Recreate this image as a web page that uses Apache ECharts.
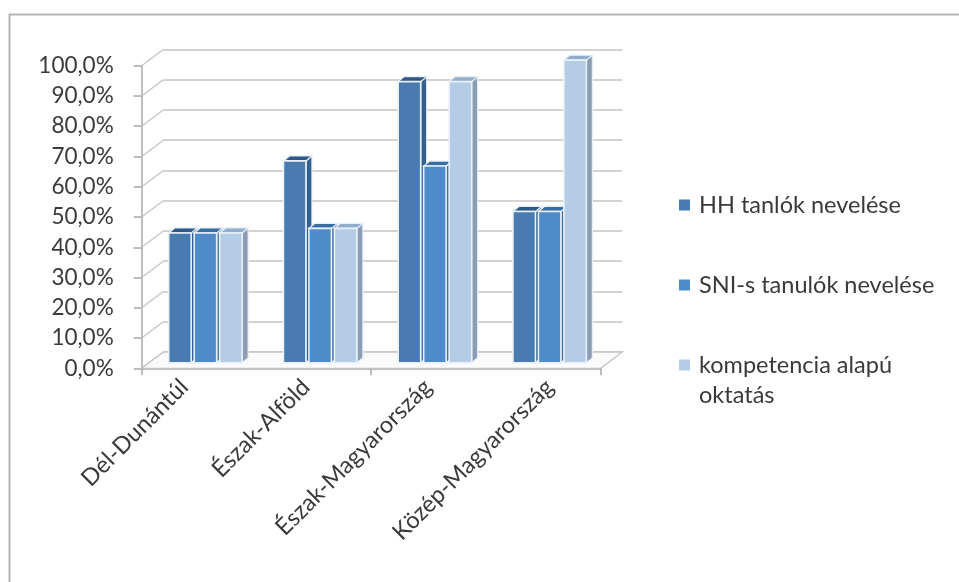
<!DOCTYPE html>
<html>
<head>
<meta charset="utf-8">
<script src="https://cdn.jsdelivr.net/npm/echarts@6/dist/echarts.min.js"></script>
<style>
  html, body { margin: 0; padding: 0; background: #fff; }
  #chart { width: 959px; height: 582px; }
</style>
</head>
<body>
<div id="chart"></div>
<script>
// Regions and the share of schools per programme
const regions = ['Dél-Dunántúl', 'Észak-Alföld', 'Észak-Magyarország', 'Közép-Magyarország'];
const seriesNames = ['HH tanlók nevelése', 'SNI-s tanulók nevelése', 'kompetencia alapú oktatás'];
const hhValues = [0.429, 0.667, 0.929, 0.5];
const sniValues = [0.429, 0.444, 0.65, 0.5];
const kompValues = [0.429, 0.444, 0.929, 1.0];
const yTicks = [0, 0.1, 0.2, 0.3, 0.4, 0.5, 0.6, 0.7, 0.8, 0.9, 1.0];

const FONT = 'Lato, "Open Sans", sans-serif';
const TEXT = '#3a3a3a';
const GRID_LINE = '#c4c4c4';
const AXIS_LINE = '#a8a8a8';

// 3D look: depth of the floor (front plane -> back wall) and of each bar
const FLOOR_DX = 21.6, FLOOR_DY = -16.3;
const BAR_DX = 6, BAR_DY = -5;
const BAR_W = 0.196, BAR_PITCH = 0.222, GROUP_SHIFT = -1;

const faces = [
  { front: '#4A7BB0', top: '#2E5885', side: '#34608F' },
  { front: '#4F8BC8', top: '#3A6DA3', side: '#3F6E9E' },
  { front: '#B5CCE6', top: '#93AECD', side: '#8A9DB4' }
];
const valueSets = [hhValues, sniValues, kompValues];

const front = { left: 141.7, top: 65.7, width: 459, height: 302.6 };
const back = { left: front.left + FLOOR_DX, top: front.top + FLOOR_DY, width: 459, height: 302.6 };
const mid = { left: front.left + 0.34 * FLOOR_DX, top: front.top + 0.34 * FLOOR_DY, width: 459, height: 302.6 };
// category labels follow the projected (slightly wider) front edge
const labelRow = { left: 123.5, top: front.top, width: 486.8, height: 302.6 };

function pct(v) {
  return (v * 100).toFixed(1).replace('.', ',') + '%';
}

function barRenderer(k) {
  return function (params, api) {
    const cat = api.value(0);
    const val = api.value(1);
    const base = api.coord([cat, 0]);
    const top = api.coord([cat, val]);
    const catW = api.size([1, 0])[0];
    const w = catW * BAR_W;
    const x0 = base[0] + (k - 1) * catW * BAR_PITCH - w / 2 + GROUP_SHIFT;
    const x1 = x0 + w;
    const yb = base[1], yt = top[1];
    const f = faces[k];
    const edge = { stroke: '#E4EEF8', lineWidth: 1.2 };
    return {
      type: 'group',
      children: [
        { type: 'polygon', shape: { points: [[x1, yb], [x1 + BAR_DX, yb + BAR_DY], [x1 + BAR_DX, yt + BAR_DY], [x1, yt]] },
          style: Object.assign({ fill: f.side }, edge) },
        { type: 'polygon', shape: { points: [[x0, yt], [x1, yt], [x1 + BAR_DX, yt + BAR_DY], [x0 + BAR_DX, yt + BAR_DY]] },
          style: Object.assign({ fill: f.top }, edge) },
        { type: 'rect', shape: { x: x0, y: yt, width: w, height: yb - yt },
          style: { fill: f.front, stroke: '#E8F1FA', lineWidth: 1.6 } }
      ]
    };
  };
}

// back wall connectors and floor
function wallRenderer(params, api) {
  const v = api.value(0);
  const p = api.coord([0, v]);
  const children = [
    { type: 'line', shape: { x1: p[0], y1: p[1], x2: p[0] - FLOOR_DX, y2: p[1] - FLOOR_DY },
      style: { stroke: GRID_LINE, lineWidth: 1.3 } }
  ];
  if (v === 0) {
    const r = api.coord([1, 0]);
    children.push({ type: 'polygon',
      shape: { points: [[p[0], p[1]], [r[0], r[1]], [r[0] - FLOOR_DX, r[1] - FLOOR_DY], [p[0] - FLOOR_DX, p[1] - FLOOR_DY]] },
      style: { fill: '#fbfbfb', stroke: GRID_LINE, lineWidth: 1.3 } });
  }
  return { type: 'group', children: children };
}

const chart = echarts.init(document.getElementById('chart'), null, { renderer: 'canvas' });

const barSeries = valueSets.map(function (vals, k) {
  return {
    name: seriesNames[k],
    type: 'custom',
    xAxisIndex: 2, yAxisIndex: 2,
    itemStyle: { color: faces[k].front },
    renderItem: barRenderer(k),
    encode: { x: 0, y: 1 },
    data: vals.map(function (v, i) { return [i, v]; }),
    z: 5
  };
});

chart.setOption({
  animation: false,
  backgroundColor: '#ffffff',
  graphic: [{
    type: 'rect', left: 7, top: 12, silent: true, z: -10,
    shape: { width: 2000, height: 2000 },
    style: { fill: 'none', stroke: '#b4b4b4', lineWidth: 2 }
  }],
  legend: {
    orient: 'vertical',
    left: 674, top: 155,
    icon: 'rect', itemWidth: 11, itemHeight: 11, itemGap: -10,
    // the wrapped entry gets an empty first line so its icon sits beside "kompetencia alapú"
    formatter: function (name) {
      return name === seriesNames[2] ? '\n' + name : name;
    },
    textStyle: { fontFamily: FONT, fontSize: 23.5, color: TEXT, lineHeight: 30 },
    data: [
      { name: seriesNames[0], textStyle: { padding: [30, 0, 30, 4] } },
      { name: seriesNames[1], textStyle: { padding: [30, 0, 30, 4] } },
      { name: seriesNames[2], textStyle: { padding: [0, 0, 0, 4], width: 230, overflow: 'break' } }
    ]
  },
  grid: [
    Object.assign({ containLabel: false }, front),
    Object.assign({ containLabel: false }, back),
    Object.assign({ containLabel: false }, mid),
    Object.assign({ containLabel: false }, labelRow)
  ],
  xAxis: [
    { gridIndex: 0, type: 'category', data: regions, boundaryGap: true,
      axisLine: { lineStyle: { color: AXIS_LINE, width: 1.5 } },
      axisTick: { show: true, length: 7, lineStyle: { color: AXIS_LINE, width: 1.5 } },
      axisLabel: { show: false } },
    { gridIndex: 1, type: 'value', min: 0, max: 1, show: false },
    { gridIndex: 2, type: 'category', data: regions, boundaryGap: true, show: false },
    { gridIndex: 3, type: 'category', data: regions, boundaryGap: true,
      axisLine: { show: false }, axisTick: { show: false },
      axisLabel: { rotate: 45, margin: 15, fontFamily: FONT, fontSize: 23.5, color: TEXT, interval: 0 } }
  ],
  yAxis: [
    { gridIndex: 0, type: 'value', min: 0, max: 1, interval: 0.1,
      axisLine: { show: true, lineStyle: { color: AXIS_LINE, width: 1.5 } },
      axisTick: { show: true, length: 8, lineStyle: { color: AXIS_LINE, width: 1.5 } },
      splitLine: { show: false },
      axisLabel: { margin: 28, fontFamily: FONT, fontSize: 22.5, color: TEXT, formatter: pct } },
    { gridIndex: 1, type: 'value', min: 0, max: 1, interval: 0.1,
      axisLine: { show: false }, axisTick: { show: false }, axisLabel: { show: false },
      splitLine: { show: true, lineStyle: { color: GRID_LINE, width: 1.5 } } },
    { gridIndex: 2, type: 'value', min: 0, max: 1, show: false },
    { gridIndex: 3, type: 'value', min: 0, max: 1, show: false }
  ],
  series: [
    {
      type: 'custom', xAxisIndex: 1, yAxisIndex: 1, silent: true, z: 1,
      renderItem: wallRenderer,
      encode: { y: 0 },
      data: yTicks.map(function (v) { return [v]; })
    }
  ].concat(barSeries)
});
</script>
</body>
</html>
